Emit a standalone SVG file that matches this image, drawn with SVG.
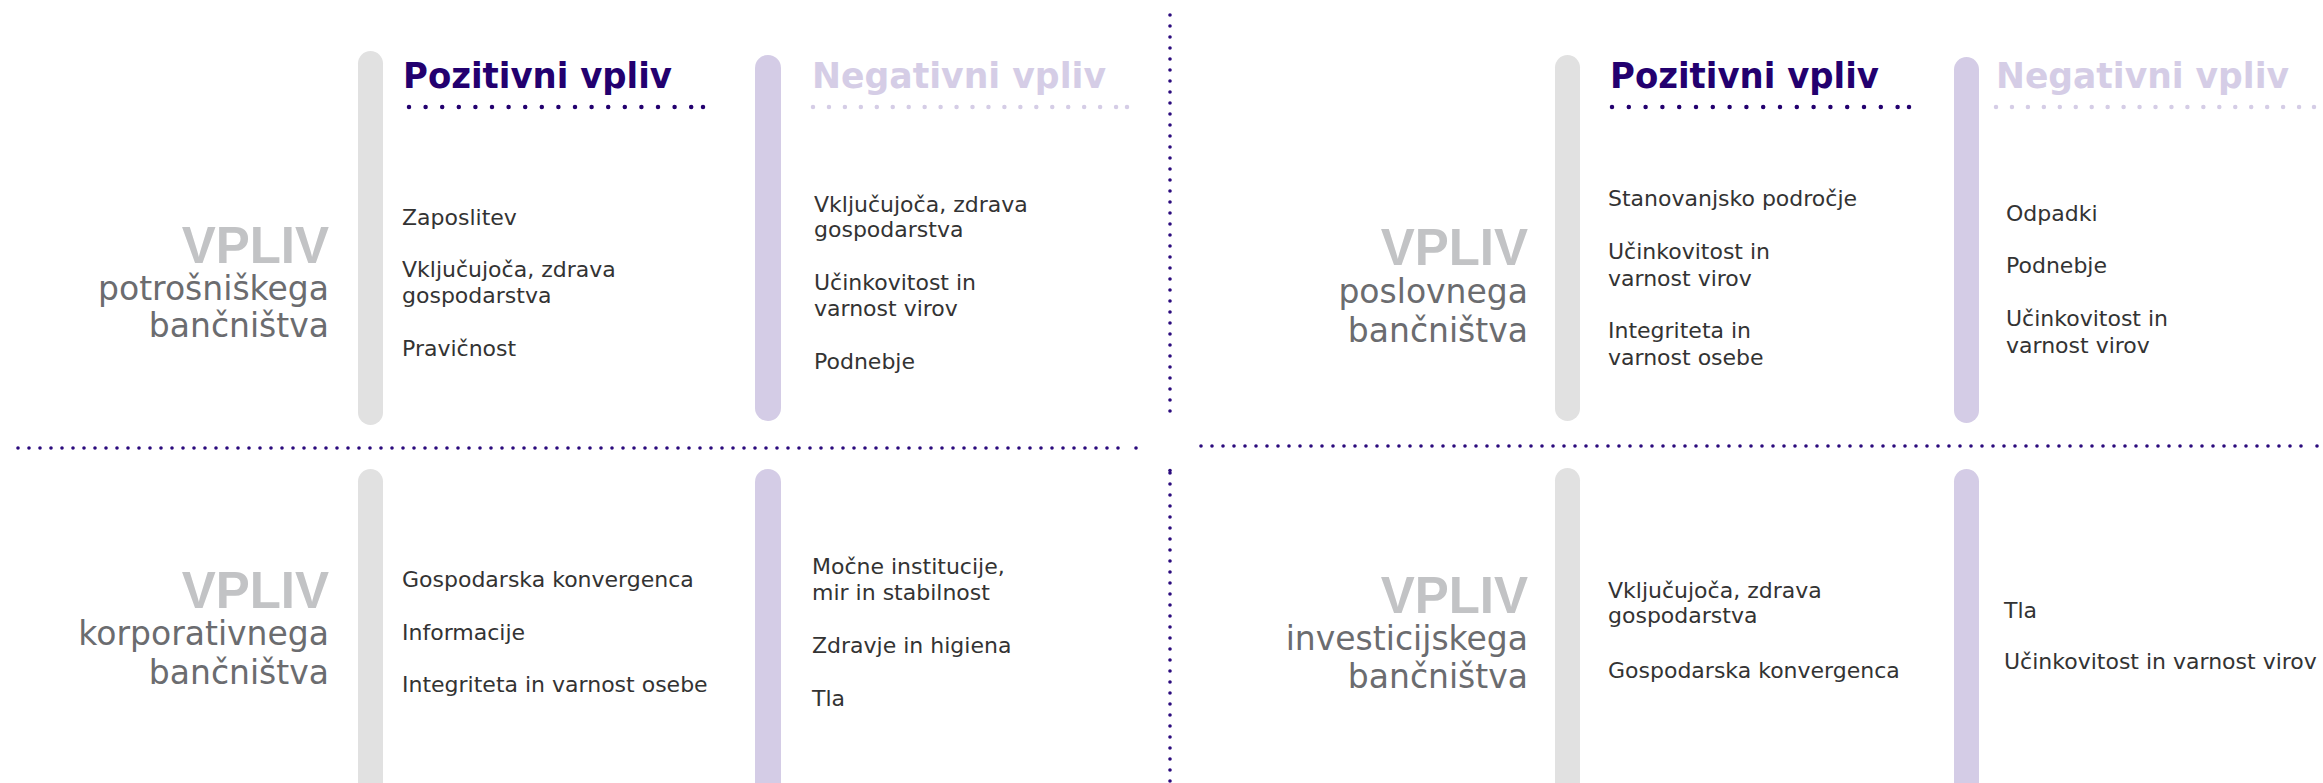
<svg xmlns="http://www.w3.org/2000/svg" width="2323" height="783" viewBox="0 0 2323 783">
<style>
.bg{fill:#ffffff}
.barG{fill:#e1e1e1}
.barP{fill:#d4cce6}
.vpliv{font-family:"Liberation Sans",Arial,sans-serif;font-weight:bold;font-size:51px;fill:#c2c3c5;text-anchor:end}
.sub{font-family:"DejaVu Sans",sans-serif;font-size:33px;fill:#6b6c6f;text-anchor:end}
.hp{font-family:"DejaVu Sans",sans-serif;font-weight:bold;font-size:36px;fill:#23006f}
.hn{font-family:"DejaVu Sans",sans-serif;font-weight:bold;font-size:36px;fill:#d5cde6}
.item{font-family:"DejaVu Sans",sans-serif;font-size:22px;fill:#333333}
.dp{stroke:#23006f;stroke-width:4.5;stroke-linecap:round;fill:none}
.dn{stroke:#d5cde6;stroke-width:4.5;stroke-linecap:round;fill:none}
.sep{stroke:#2b0b7d;stroke-width:3.6;stroke-linecap:round;fill:none;stroke-dasharray:0 11}
.cp{fill:#23006f}
.cn{fill:#d5cde6}
.cs{fill:#2b0b7d}
</style>
<rect class="bg" x="0" y="0" width="2323" height="783"/>

<g id="connectors">
  <line class="sep" x1="18" y1="448" x2="1129" y2="448"/>
  <circle class="cs" cx="1136" cy="448" r="1.8"/>
  <line class="sep" x1="1201" y1="446" x2="2312" y2="446"/>
  <circle class="cs" cx="2317" cy="446" r="1.8"/>
  <line class="sep" x1="1170" y1="15" x2="1170" y2="422"/>
  <line class="sep" x1="1170" y1="473" x2="1170" y2="790"/>
  <circle class="cs" cx="1170" cy="470.5" r="1.8"/>
</g>

<g id="consumer-banking">
  <g id="consumer-label">
    <text class="vpliv" x="329" y="263">VPLIV</text>
    <text class="sub" x="329" y="300">potrošniškega</text>
    <text class="sub" x="329" y="337">bančništva</text>
  </g>
  <g id="consumer-positive">
    <rect class="barG" x="358" y="51" width="25" height="374" rx="12.5"/>
    <text class="hp" x="403" y="88" textLength="269" lengthAdjust="spacingAndGlyphs">Pozitivni vpliv</text>
    <line class="dp" x1="409" y1="107" x2="703" y2="107" stroke-dasharray="0 16.6"/>
    <circle class="cp" cx="703" cy="107" r="2.25"/>
    <text class="item" x="402" y="225">Zaposlitev</text>
    <text class="item" x="402" y="277">Vključujoča, zdrava</text>
    <text class="item" x="402" y="303">gospodarstva</text>
    <text class="item" x="402" y="356">Pravičnost</text>
  </g>
  <g id="consumer-negative">
    <rect class="barP" x="755" y="55" width="26" height="366" rx="13"/>
    <text class="hn" x="812" y="88" textLength="294" lengthAdjust="spacingAndGlyphs">Negativni vpliv</text>
    <line class="dn" x1="813" y1="107" x2="1127" y2="107" stroke-dasharray="0 15.95"/>
    <circle class="cn" cx="1127" cy="107" r="2.25"/>
    <text class="item" x="814" y="212">Vključujoča, zdrava</text>
    <text class="item" x="814" y="237">gospodarstva</text>
    <text class="item" x="814" y="290">Učinkovitost in</text>
    <text class="item" x="814" y="316">varnost virov</text>
    <text class="item" x="814" y="369">Podnebje</text>
  </g>
</g>

<g id="business-banking">
  <g id="business-label">
    <text class="vpliv" x="1528" y="265">VPLIV</text>
    <text class="sub" x="1528" y="303">poslovnega</text>
    <text class="sub" x="1528" y="342">bančništva</text>
  </g>
  <g id="business-positive">
    <rect class="barG" x="1555" y="55" width="25" height="366" rx="12.5"/>
    <text class="hp" x="1610" y="88" textLength="269" lengthAdjust="spacingAndGlyphs">Pozitivni vpliv</text>
    <line class="dp" x1="1612" y1="107" x2="1909" y2="107" stroke-dasharray="0 16.8"/>
    <circle class="cp" cx="1909" cy="107" r="2.25"/>
    <text class="item" x="1608" y="206">Stanovanjsko področje</text>
    <text class="item" x="1608" y="259">Učinkovitost in</text>
    <text class="item" x="1608" y="286">varnost virov</text>
    <text class="item" x="1608" y="338">Integriteta in</text>
    <text class="item" x="1608" y="365">varnost osebe</text>
  </g>
  <g id="business-negative">
    <rect class="barP" x="1954" y="57" width="25" height="366" rx="12.5"/>
    <text class="hn" x="1996" y="88" textLength="293" lengthAdjust="spacingAndGlyphs">Negativni vpliv</text>
    <line class="dn" x1="1996" y1="107" x2="2314" y2="107" stroke-dasharray="0 15.95"/>
    <circle class="cn" cx="2314" cy="107" r="2.25"/>
    <text class="item" x="2006" y="221">Odpadki</text>
    <text class="item" x="2006" y="273">Podnebje</text>
    <text class="item" x="2006" y="326">Učinkovitost in</text>
    <text class="item" x="2006" y="353">varnost virov</text>
  </g>
</g>

<g id="corporate-banking">
  <g id="corporate-label">
    <text class="vpliv" x="329" y="608">VPLIV</text>
    <text class="sub" x="329" y="645">korporativnega</text>
    <text class="sub" x="329" y="684">bančništva</text>
  </g>
  <g id="corporate-positive">
    <rect class="barG" x="358" y="469" width="25" height="340" rx="12.5"/>
    <text class="item" x="402" y="587">Gospodarska konvergenca</text>
    <text class="item" x="402" y="640">Informacije</text>
    <text class="item" x="402" y="692">Integriteta in varnost osebe</text>
  </g>
  <g id="corporate-negative">
    <rect class="barP" x="755" y="469" width="26" height="340" rx="13"/>
    <text class="item" x="812" y="574">Močne institucije,</text>
    <text class="item" x="812" y="600">mir in stabilnost</text>
    <text class="item" x="812" y="653">Zdravje in higiena</text>
    <text class="item" x="812" y="706">Tla</text>
  </g>
</g>

<g id="investment-banking">
  <g id="investment-label">
    <text class="vpliv" x="1528" y="613">VPLIV</text>
    <text class="sub" x="1528" y="650">investicijskega</text>
    <text class="sub" x="1528" y="688">bančništva</text>
  </g>
  <g id="investment-positive">
    <rect class="barG" x="1555" y="468" width="25" height="340" rx="12.5"/>
    <text class="item" x="1608" y="598">Vključujoča, zdrava</text>
    <text class="item" x="1608" y="623">gospodarstva</text>
    <text class="item" x="1608" y="678">Gospodarska konvergenca</text>
  </g>
  <g id="investment-negative">
    <rect class="barP" x="1954" y="469" width="25" height="340" rx="12.5"/>
    <text class="item" x="2004" y="618">Tla</text>
    <text class="item" x="2004" y="669">Učinkovitost in varnost virov</text>
  </g>
</g>
</svg>
